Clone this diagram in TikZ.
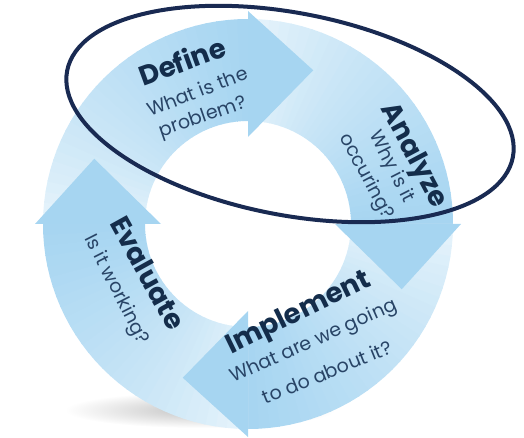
\documentclass[tikz,border=0pt]{standalone}
\usepackage{fontspec}
\setmainfont{Poppins}
\begin{document}
\begin{tikzpicture}[x=1pt,y=-1pt]
\definecolor{headblue}{RGB}{166,213,241}
\definecolor{tailblue}{RGB}{236,246,252}
\definecolor{ringnavy}{RGB}{25,42,82}
\definecolor{titleink}{RGB}{20,45,75}
\definecolor{subink}{RGB}{40,68,102}
\tikzset{
  steptitle/.style={font=\bfseries\fontsize{27.5}{27.5}\selectfont, text=titleink, inner sep=0pt},
  stepsub/.style={font=\fontsize{19}{19}\selectfont, text=subink, inner sep=0pt},
  tipfill/.style={fill=headblue},
  focusring/.style={draw=ringnavy, line width=4pt},
}
\useasboundingbox (0,0) rectangle (524,438);

% soft floor shadow under the cycle
\shade[inner color=black!24, outer color=white] (200,410) ellipse[x radius=135, y radius=18];

\begin{scope}[shift={(248,224)}]
  % curved arrow bodies, fading from the tail towards the head
  \foreach \s in {180,270,360,450} {
    \foreach \i in {0,...,29} {
      \pgfmathsetmacro\a{\s+\i*3}
      \pgfmathsetmacro\b{\s+\i*3+3.4}
      \pgfmathsetmacro\p{100*((\i+0.5)/30)^0.7}
      \fill[headblue!\p!tailblue] (\a:103) arc[start angle=\a, end angle=\b, radius=103]
        -- (\b:205) arc[start angle=\b, end angle=\a, radius=205] -- cycle;
    }
  }
  % arrow heads
  \foreach \h in {270,360,450,540} {
    \pgfmathsetmacro\t{\h+23}
    \fill[tipfill] (\h:87) -- (\h:213) -- (\t:167) -- cycle;
  }
\end{scope}

% step labels
\node[steptitle, rotate=20] (define) at (182,61) {Define};
\node[stepsub, rotate=21] (defineq1) at (197,91) {What is the};
\node[stepsub, rotate=19] (defineq2) at (203,118) {problem?};

\node[steptitle, rotate=-62] (analyze) at (413,156) {Analyze};
\node[stepsub, rotate=-63] (analyzeq1) at (391,167) {Why is it};
\node[stepsub, rotate=-62] (analyzeq2) at (366,177) {occuring?};

\node[steptitle, rotate=26] (implement) at (299,314) {Implement};
\node[stepsub, rotate=24] (implementq1) at (314,342) {What are we going};
\node[stepsub, rotate=22] (implementq2) at (327,372) {to do about it?};

\node[steptitle, rotate=-61] (evaluate) at (148,273) {Evaluate};
\node[stepsub, rotate=-63] (evaluateq) at (116,290) {Is it working?};

% highlight ring around the first two steps
\draw[focusring, rotate around={-11:(290,114)}] (290,114) ellipse[x radius=227, y radius=101];
\end{tikzpicture}
\end{document}
